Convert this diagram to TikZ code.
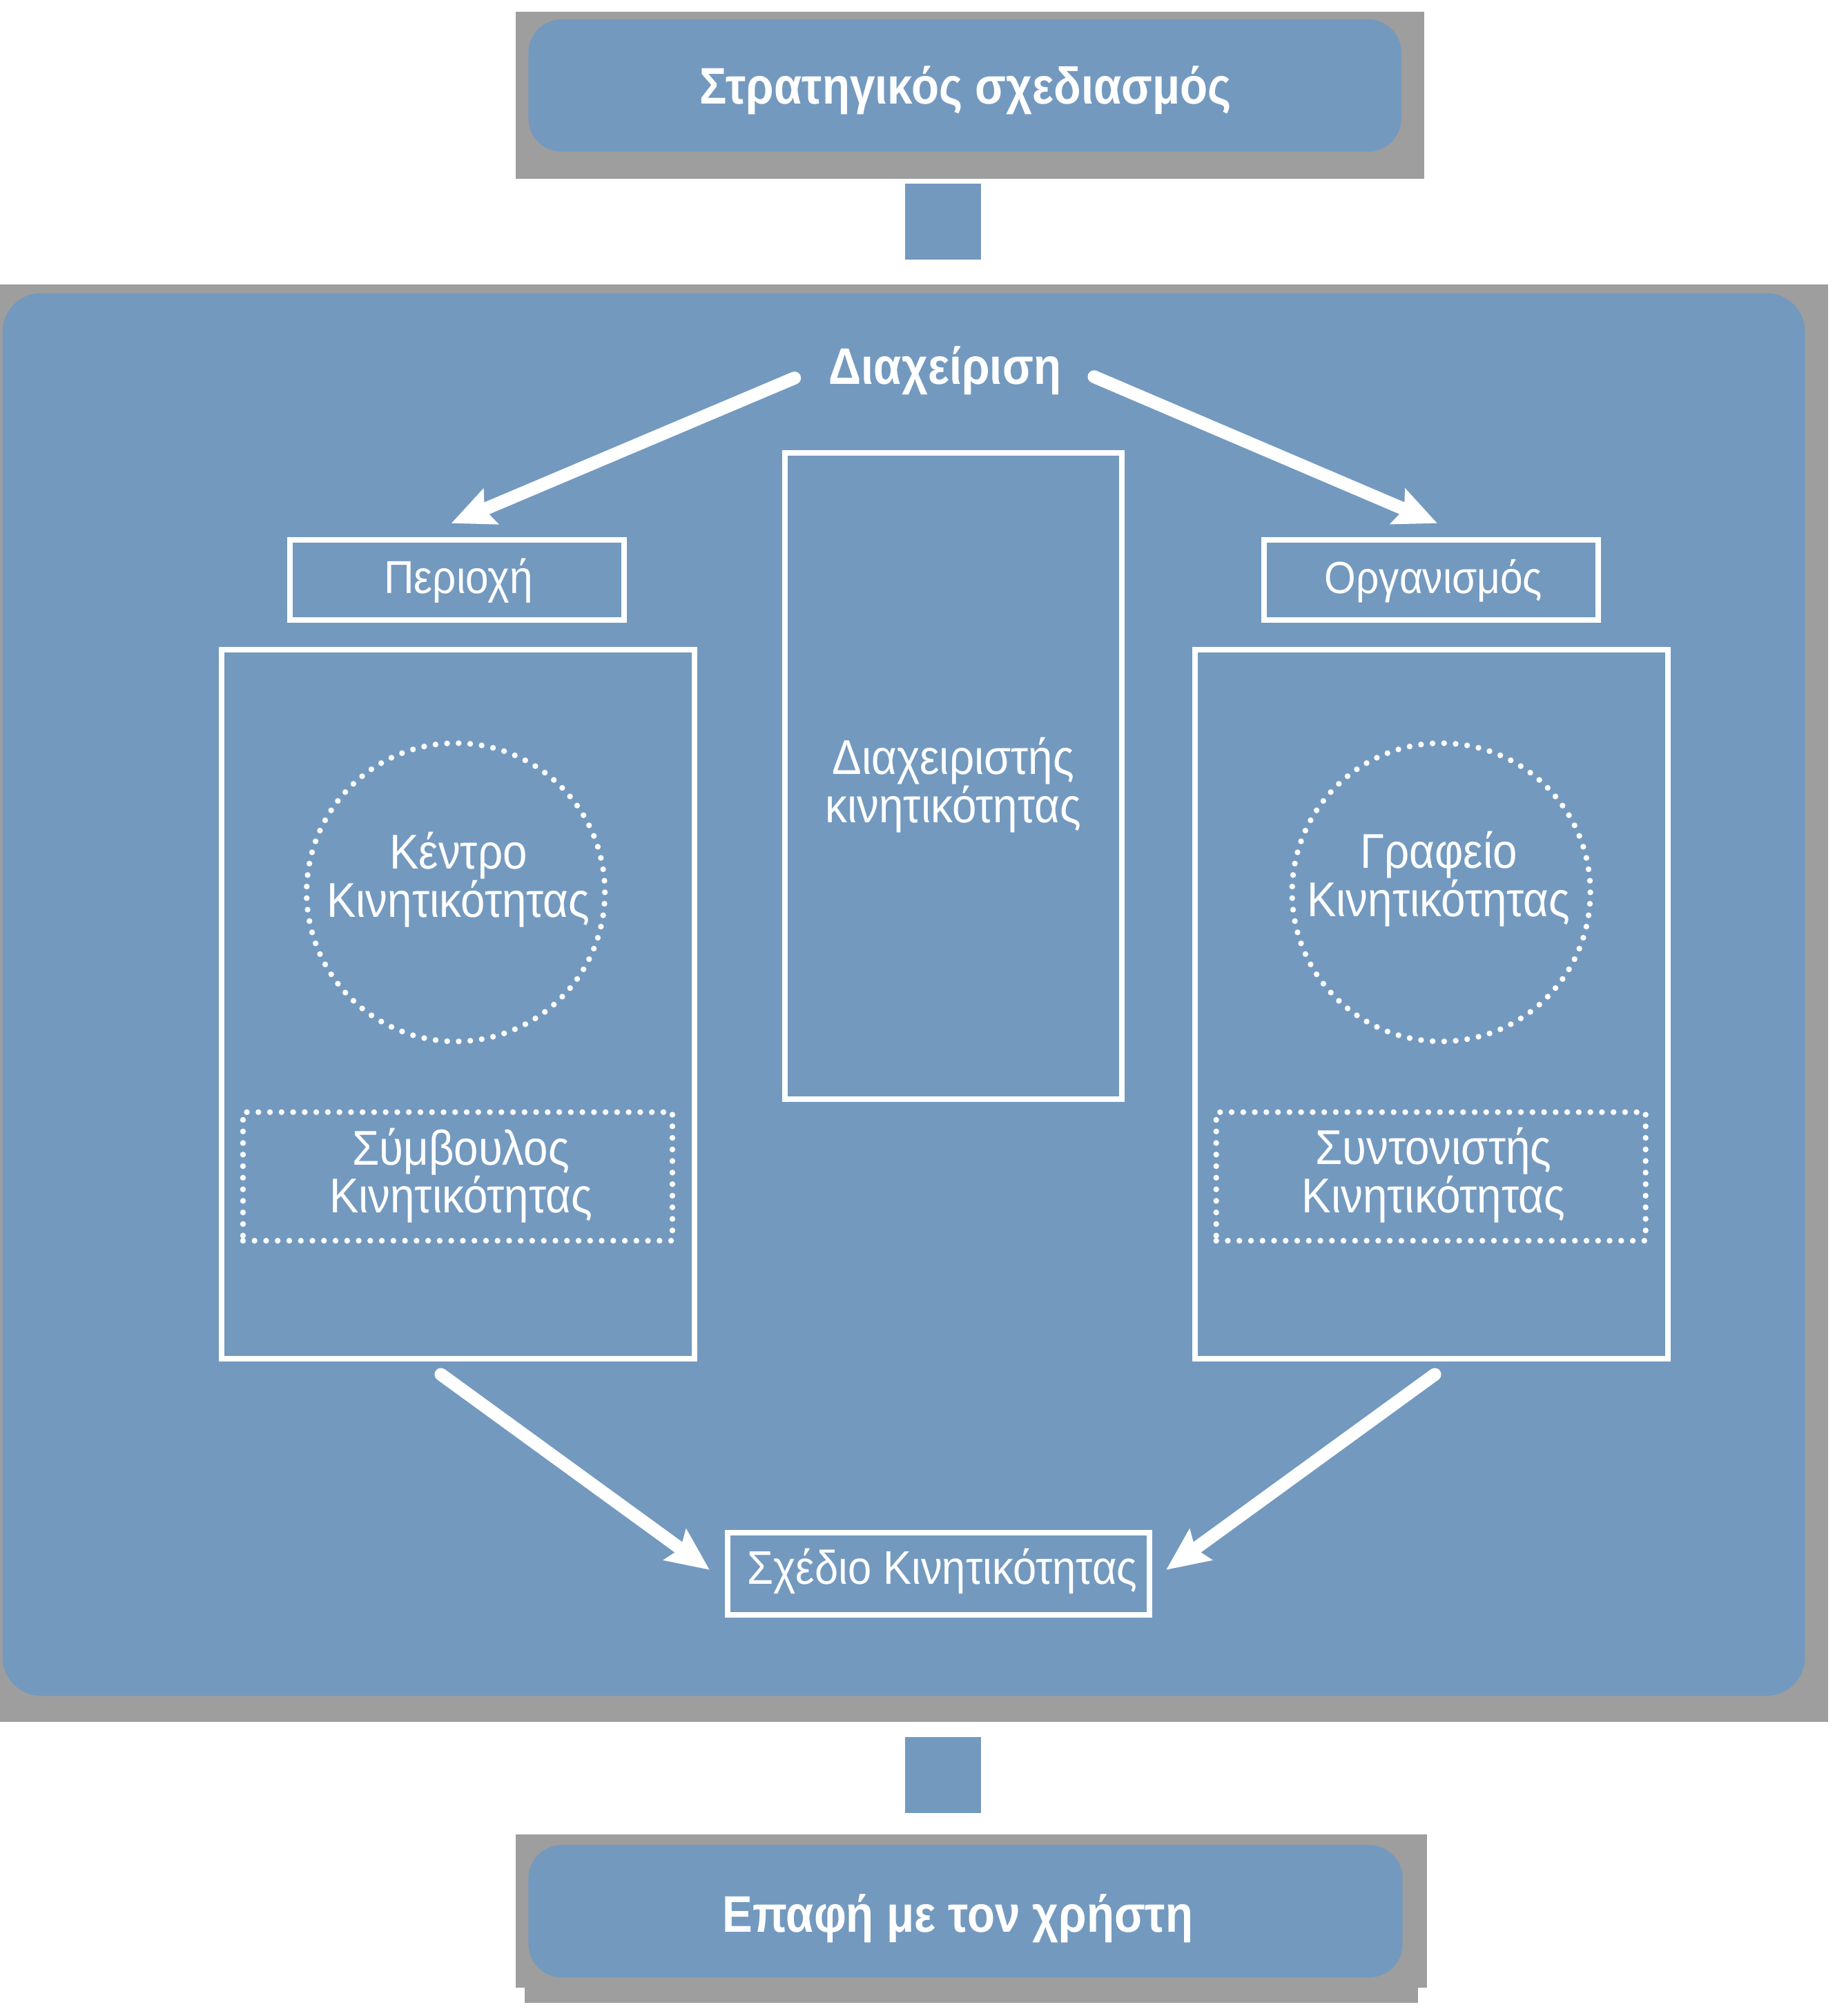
\documentclass[tikz,border=0pt]{standalone}
\usepackage{fontspec}
\setmainfont{Liberation Sans}
\newfontfamily\labfont[FakeStretch=0.9]{Liberation Sans}
\newfontfamily\hdrfont[FakeStretch=0.88]{Liberation Sans}
\usetikzlibrary{arrows.meta}
\definecolor{panelblue}{HTML}{7399BF}
\definecolor{shadowgray}{HTML}{9E9E9E}
\begin{document}
\begin{tikzpicture}[x=1pt,y=-1pt,
  shadow/.style={fill=shadowgray},
  bluefill/.style={fill=panelblue, inner sep=0pt, outer sep=0pt},
  wbox/.style={draw=white, line width=4.3pt, rectangle, inner sep=0pt},
  dotbox/.style={draw=white, line width=4.5pt, line cap=round, dash pattern=on 0pt off 9pt, inner sep=0pt},
  lbl/.style={text=white, font=\labfont\fontsize{36}{36}\selectfont, align=center, anchor=base, inner sep=0pt},
  twoline/.style={lbl, font=\labfont\fontsize{38}{36}\selectfont},
  hdr/.style={text=white, font=\hdrfont\bfseries\fontsize{40}{40}\selectfont, anchor=base, inner sep=0pt},
  flow/.style={draw=white, line width=10pt, line cap=round, -{Stealth[length=33pt,width=29pt,inset=5pt]}},
]
\useasboundingbox (0,0) rectangle (1427,1568);
% top box
\fill[shadow] (401,9) rectangle (1108,139);
\node[bluefill, rounded corners=26pt, minimum width=679pt, minimum height=103pt] (strat) at (750.5,66.5) {};
\node[hdr] (stratT) at (751,81) {Στρατηγικός σχεδιασμός};
\node[bluefill, minimum size=59pt] (c1) at (733.5,172.5) {};
% main panel
\fill[shadow] (0,221) rectangle (1422,1339);
\node[bluefill, rounded corners=30pt, minimum width=1402pt, minimum height=1091pt] (panel) at (703,773.5) {};
\node[bluefill, minimum size=59pt] (c2) at (733.5,1380.5) {};
% bottom box
\fill[shadow] (401,1427) rectangle (1110,1546);
\fill[shadow] (408,1546) rectangle (1103,1558);
\node[bluefill, rounded corners=26pt, minimum width=680pt, minimum height=103pt] (user) at (751,1486.5) {};
\node[hdr] (userT) at (745,1503) {Επαφή με τον χρήστη};
% inner content
\node[hdr] (diax) at (735,298.6) {Διαχείριση};
\node[wbox, minimum width=260pt, minimum height=62pt] (perioxi) at (355.6,451) {};
\node[lbl] (perioxiT) at (356.5,461.5) {Περιοχή};
\node[wbox, minimum width=260pt, minimum height=62pt] (organ) at (1113,451) {};
\node[lbl, font=\labfont\fontsize{35}{36}\selectfont] (organT) at (1115,461.5) {Οργανισμός};
\node[wbox, minimum width=368pt, minimum height=551.5pt] (leftbox) at (356.3,781) {};
\node[wbox, minimum width=368pt, minimum height=551.5pt] (rightbox) at (1113.5,781) {};
\node[wbox, minimum width=261.8pt, minimum height=503pt] (midbox) at (741.5,603.5) {};
\node[twoline] (midT) at (741.5,639.7) {Διαχειριστής\\κινητικότητας};
\node[dotbox, circle, minimum size=232pt] (kentro) at (354.5,694) {};
\node[twoline] (kentroT) at (356.5,713.3) {Κέντρο\\Κινητικότητας};
\node[dotbox, circle, minimum size=232pt] (grafeio) at (1121,694) {};
\node[twoline] (grafeioT) at (1119,713) {Γραφείο\\Κινητικότητας};
\node[dotbox, rectangle, minimum width=334pt, minimum height=100pt] (symv) at (356,915) {};
\node[twoline] (symvT) at (358.5,943.4) {Σύμβουλος\\Κινητικότητας};
\node[dotbox, rectangle, minimum width=334pt, minimum height=100pt] (synt) at (1113,915) {};
\node[twoline] (syntT) at (1115,943.3) {Συντονιστής\\Κινητικότητας};
\node[wbox, minimum width=328pt, minimum height=64pt] (sxedio) at (730,1224) {};
\node[lbl, font=\labfont\fontsize{36.7}{36}\selectfont] (sxedioT) at (733,1232) {Σχέδιο Κινητικότητας};
% arrows
\coordinate (aLs) at (618,294);
\coordinate (aLe) at (351,407);
\coordinate (aRs) at (851,293);
\coordinate (aRe) at (1118,407);
\coordinate (bLs) at (343,1069);
\coordinate (bLe) at (552,1221);
\coordinate (bRs) at (1116,1069);
\coordinate (bRe) at (907,1221);
\draw[flow] (aLs) -- (aLe);
\draw[flow] (aRs) -- (aRe);
\draw[flow] (bLs) -- (bLe);
\draw[flow] (bRs) -- (bRe);
\end{tikzpicture}
\end{document}
